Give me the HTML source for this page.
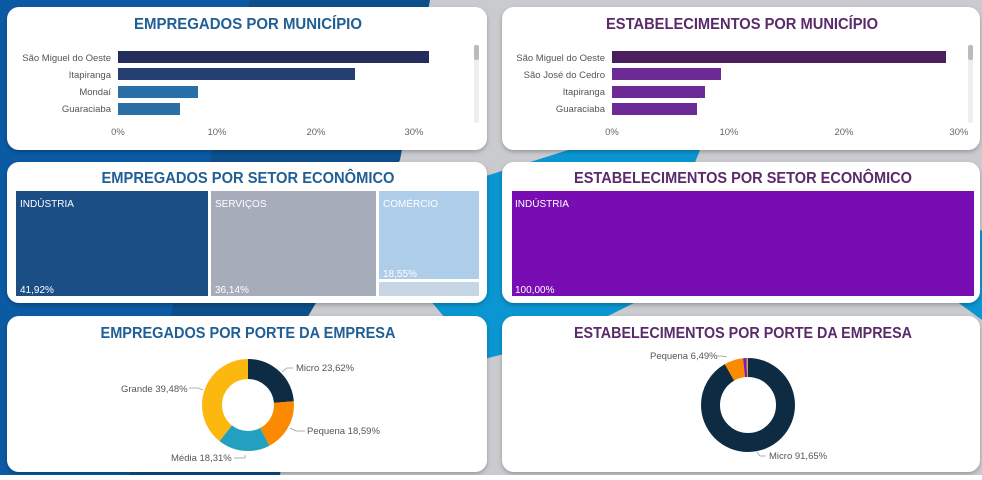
<!DOCTYPE html>
<html><head><meta charset="utf-8"><style>
body{margin:0;width:982px;height:475px;overflow:hidden;font-family:"Liberation Sans",sans-serif;}
</style></head><body>
<svg width="982" height="475" viewBox="0 0 982 475" xmlns="http://www.w3.org/2000/svg" font-family="Liberation Sans, sans-serif">
<defs><filter id="sh" x="-5%" y="-5%" width="110%" height="115%"><feDropShadow dx="0" dy="2" stdDeviation="2" flood-color="#000" flood-opacity="0.25"/></filter></defs>
<rect width="982" height="475" fill="#c9cbce"/>
<polygon points="0,0 430,0 400,160 300,330 280,475 0,475" fill="#0d4f8b"/>
<polygon points="0,0 250,0 200,200 130,475 0,475" fill="#0a5aa4"/>
<polygon points="410,200 600,140 700,150 640,300 560,340 480,360 430,300" fill="#0a96d2"/>
<polygon points="900,260 982,230 982,320" fill="#0a96d2"/>
<g filter="url(#sh)" fill="#fff">
<rect x="7" y="7" width="480" height="143" rx="12"/>
<rect x="502" y="7" width="478" height="143" rx="12"/>
<rect x="7" y="162" width="480" height="141" rx="12"/>
<rect x="502" y="162" width="478" height="141" rx="12"/>
<rect x="7" y="316" width="480" height="156" rx="12"/>
<rect x="502" y="316" width="478" height="156" rx="12"/>
</g>
<g font-size="15.5" font-weight="bold" text-anchor="middle" lengthAdjust="spacingAndGlyphs">
<text x="248" y="29" fill="#1f5f95" textLength="228" lengthAdjust="spacingAndGlyphs">EMPREGADOS POR MUNICÍPIO</text>
<text x="742" y="29" fill="#5a2a6a" textLength="272" lengthAdjust="spacingAndGlyphs">ESTABELECIMENTOS POR MUNICÍPIO</text>
<text x="248" y="183" fill="#1f5f95" textLength="293" lengthAdjust="spacingAndGlyphs">EMPREGADOS POR SETOR ECONÔMICO</text>
<text x="743" y="183" fill="#5a2a6a" textLength="338" lengthAdjust="spacingAndGlyphs">ESTABELECIMENTOS POR SETOR ECONÔMICO</text>
<text x="248" y="338" fill="#1f5f95" textLength="295" lengthAdjust="spacingAndGlyphs">EMPREGADOS POR PORTE DA EMPRESA</text>
<text x="743" y="338" fill="#5a2a6a" textLength="338" lengthAdjust="spacingAndGlyphs">ESTABELECIMENTOS POR PORTE DA EMPRESA</text>
</g>
<g font-size="9.5" fill="#555" text-anchor="end">
<text x="111" y="61">São Miguel do Oeste</text><text x="111" y="78">Itapiranga</text><text x="111" y="95">Mondaí</text><text x="111" y="112">Guaraciaba</text>
<text x="605" y="61">São Miguel do Oeste</text><text x="605" y="78">São José do Cedro</text><text x="605" y="95">Itapiranga</text><text x="605" y="112">Guaraciaba</text>
</g>
<rect x="118" y="51" width="311" height="12" fill="#252d5c"/>
<rect x="118" y="68" width="237" height="12" fill="#253f72"/>
<rect x="118" y="86" width="80" height="12" fill="#2a70a8"/>
<rect x="118" y="103" width="62" height="12" fill="#2a70a8"/>
<rect x="612" y="51" width="334" height="12" fill="#4b1f5e"/>
<rect x="612" y="68" width="109" height="12" fill="#6b2a95"/>
<rect x="612" y="86" width="93" height="12" fill="#6b2a95"/>
<rect x="612" y="103" width="85" height="12" fill="#6b2a95"/>
<rect x="474" y="45" width="5" height="78" rx="2" fill="#eee"/><rect x="474" y="45" width="5" height="15" rx="2" fill="#bbb"/>
<rect x="968" y="45" width="5" height="78" rx="2" fill="#eee"/><rect x="968" y="45" width="5" height="15" rx="2" fill="#bbb"/>
<g font-size="9.5" fill="#666" text-anchor="middle">
<text x="118" y="135">0%</text><text x="217" y="135">10%</text><text x="316" y="135">20%</text><text x="414" y="135">30%</text>
<text x="612" y="135">0%</text><text x="729" y="135">10%</text><text x="844" y="135">20%</text><text x="959" y="135">30%</text>
</g>
<rect x="16" y="191" width="192" height="105" fill="#1b4e85"/>
<rect x="211" y="191" width="165" height="105" fill="#a7acbb"/>
<rect x="379" y="191" width="100" height="88" fill="#aecde8"/>
<rect x="379" y="282" width="100" height="14" fill="#c6d6e4"/>
<rect x="512" y="191" width="462" height="105" fill="#770db3"/>
<g font-size="10" fill="#fff">
<text x="20" y="207">INDÚSTRIA</text><text x="20" y="293">41,92%</text>
<text x="215" y="207">SERVIÇOS</text><text x="215" y="293">36,14%</text>
<text x="383" y="207">COMÉRCIO</text><text x="383" y="277">18,55%</text>
<text x="515" y="207">INDÚSTRIA</text><text x="515" y="293">100,00%</text>
</g>
<g transform="rotate(-90 248 405)" fill="none" stroke-width="20">
<circle cx="248" cy="405" r="36" stroke="#0d2c44" stroke-dasharray="53.43 300"/>
<circle cx="248" cy="405" r="36" stroke="#fb8a00" stroke-dasharray="0 53.43 42.05 300"/>
<circle cx="248" cy="405" r="36" stroke="#23a0c0" stroke-dasharray="0 95.48 41.42 300"/>
<circle cx="248" cy="405" r="36" stroke="#fdb810" stroke-dasharray="0 136.9 89.3 300"/>
</g>
<g transform="rotate(-90 748 405)" fill="none" stroke-width="19">
<circle cx="748" cy="405" r="37.5" stroke="#0d2c44" stroke-dasharray="215.9 300"/>
<circle cx="748" cy="405" r="37.5" stroke="#fb8a00" stroke-dasharray="0 215.9 15.3 300"/>
<circle cx="748" cy="405" r="37.5" stroke="#7a1fb0" stroke-dasharray="0 231.2 2.8 300"/>
<circle cx="748" cy="405" r="37.5" stroke="#d8a050" stroke-dasharray="0 234 1.6 300"/>
</g>
<g stroke="#999" fill="none" stroke-width="0.8">
<polyline points="282,372 287,368 293,368"/><polyline points="290,428 296,431 305,431"/>
<polyline points="245,455 245,458 234,458"/><polyline points="203,390 198,388 189,388"/>
<polyline points="727,357 722,356 717,356"/><polyline points="757,452 760,456 766,456"/>
</g>
<g font-size="9.5" fill="#555">
<text x="296" y="371">Micro 23,62%</text><text x="307" y="434">Pequena 18,59%</text>
<text x="171" y="461">Média 18,31%</text><text x="121" y="392">Grande 39,48%</text>
<text x="650" y="359">Pequena 6,49%</text><text x="769" y="459">Micro 91,65%</text>
</g>
</svg>
</body></html>
